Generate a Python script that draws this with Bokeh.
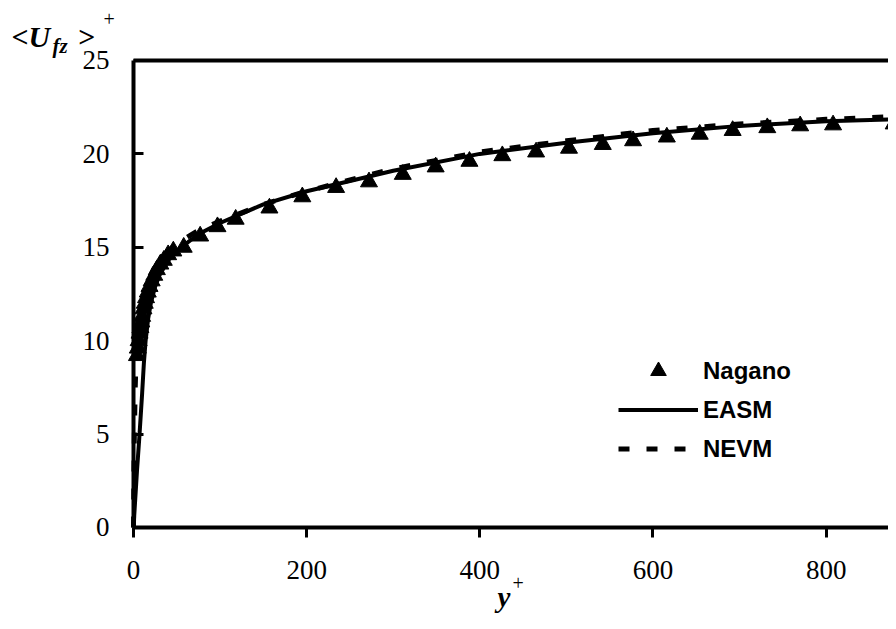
from bokeh.plotting import figure
from bokeh.models import Range1d, Label, Legend, LegendItem, FixedTicker, LinearAxis
from bokeh.embed import file_html
from bokeh.resources import INLINE

# ---- data ----
nagano_x = [4, 5, 6, 7, 8, 9, 10, 11.5, 13, 14.5, 16.5, 18.5, 21, 24, 27, 31, 35, 40, 46,
            58, 77, 97, 118, 157, 195, 234, 272, 311, 349, 388, 426, 465, 503, 542,
            577, 616, 654, 692, 732, 770, 808, 878]
nagano_u = [9.2, 9.6, 10.0, 10.4, 10.7, 11.0, 11.3, 11.7, 12.0, 12.3, 12.6, 12.9, 13.2, 13.5, 13.8, 14.1, 14.3, 14.6, 14.8,
            15.0, 15.6, 16.1, 16.5, 17.1, 17.7, 18.2, 18.5, 18.9, 19.3, 19.6, 19.9, 20.1, 20.3, 20.5,
            20.7, 20.9, 21.05, 21.25, 21.4, 21.5, 21.55, 21.6]

easm_x = [0, 2, 4, 7, 10, 12, 14, 17, 20, 25, 30, 40, 55, 75, 100, 150, 200, 300, 400, 500, 600, 700, 800, 882]
easm_u = [0, 1.5, 3.0, 5.0, 7.2, 8.8, 10.0, 11.2, 12.0, 12.9, 13.5, 14.3, 15.0, 15.7, 16.3, 17.3, 18.0, 19.1, 20.0, 20.6, 21.1, 21.5, 21.75, 21.85]

nevm_x = [0, 0.5, 1, 2, 3, 5, 8, 12, 18, 25, 35, 50, 75, 100, 150, 200, 300, 400, 500, 600, 700, 800, 882]
nevm_u = [0, 3.0, 5.0, 7.5, 9.0, 10.5, 11.6, 12.5, 13.3, 14.0, 14.6, 15.2, 15.9, 16.4, 17.3, 18.0, 19.2, 20.1, 20.7, 21.25, 21.6, 21.85, 22.0]

x_ticks = [0, 200, 400, 600, 800]
y_ticks = [0, 5, 10, 15, 20, 25]
x_max = 872.0
y_max = 25

W, H = 888, 613
p = figure(width=W, height=H, output_backend="svg", toolbar_location=None,
           x_range=Range1d(-153.6, x_max), y_range=Range1d(-4.604, 28.212),
           min_border=0, x_axis_location=None, y_axis_location=None)
p.outline_line_color = None
p.background_fill_color = "white"
p.border_fill_color = "white"

def style(ax):
    ax.axis_line_width = 4
    ax.axis_line_color = "black"
    ax.major_tick_line_width = 3
    ax.major_tick_line_color = "black"
    ax.minor_tick_line_color = None
    ax.major_label_text_font = "Liberation Serif"
    ax.major_label_text_font_size = "27px"
    ax.major_label_text_color = "black"

xax = LinearAxis(ticker=FixedTicker(ticks=x_ticks), fixed_location=0, bounds=(0, x_max))
style(xax)
xax.major_tick_out = 10
xax.major_tick_in = 0
xax.major_label_standoff = 24
p.add_layout(xax, "below")

yax = LinearAxis(ticker=FixedTicker(ticks=y_ticks), fixed_location=0, bounds=(0, y_max))
style(yax)
yax.major_tick_in = 10
yax.major_tick_out = 0
yax.major_label_standoff = 24
p.add_layout(yax, "left")

# top border of the frame
top = LinearAxis(ticker=FixedTicker(ticks=[]), fixed_location=y_max, bounds=(0, x_max),
                 major_label_text_font_size="0px")
top.axis_line_width = 4
top.major_tick_line_color = None
top.minor_tick_line_color = None
p.add_layout(top, "above")

p.xgrid.visible = False
p.ygrid.visible = False

r_easm = p.line(easm_x, easm_u, line_color="black", line_width=4)
r_nevm = p.line(nevm_x, nevm_u, line_color="black", line_width=5, line_dash="11 17")
r_nag = p.scatter(nagano_x, nagano_u, marker="triangle", size=17,
                  fill_color="black", line_color="black")

legend = Legend(items=[LegendItem(label="Nagano", renderers=[r_nag]),
                       LegendItem(label="EASM", renderers=[r_easm]),
                       LegendItem(label="NEVM", renderers=[r_nevm])],
                location=(618, 145), border_line_color=None, background_fill_alpha=0,
                padding=0, margin=0, spacing=0, glyph_width=80, glyph_height=39,
                label_height=39, label_standoff=5,
                label_text_font="Liberation Sans", label_text_font_style="bold",
                label_text_font_size="24px", label_text_color="black")
p.add_layout(legend)

# axis titles (screen pixels from the bottom-left of the canvas/frame)
def lab(x, y, text, size, style="bold italic"):
    p.add_layout(Label(x=x, y=y, x_units="screen", y_units="screen", text=text,
                       text_font="Liberation Serif", text_font_size=size,
                       text_font_style=style, text_color="black",
                       text_baseline="alphabetic", text_align="left"))

lab(11, H - 36, "<U", "30px")
lab(52, H - 45, "fz", "21px")
lab(77, H - 36, ">", "30px")
lab(103, H - 18, "+", "20px", "normal")
lab(497, H - 596, "y", "29px")
lab(512, H - 582, "+", "20px", "normal")

open("out.html", "w").write(file_html(p, INLINE))
